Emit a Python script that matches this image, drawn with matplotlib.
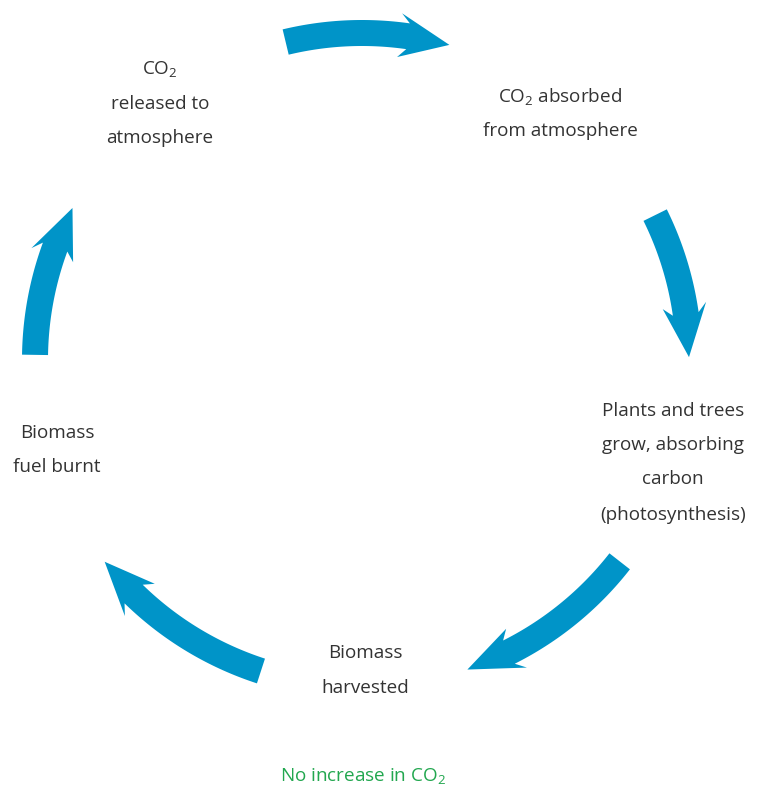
import matplotlib.pyplot as plt
import numpy as np
from matplotlib.patches import Polygon

plt.rcParams["font.family"] = ["Open Sans", "DejaVu Sans"]
plt.rcParams["mathtext.fontset"] = "custom"
plt.rcParams["mathtext.rm"] = "Open Sans"

# cycle geometry (pixels, image coords)
CX, CY, R = 362, 360, 327
SHAFT_W, HEAD_W = 26, 44
BLUE = "#0094c8"
TEXT = "#333333"
GREEN = "#22a74f"

# arrows: tail angle, head-base angle, tip angle (deg, clockwise travel)
arrow_tail = [103.5, 26.3, -38.0, -108.0, 179.1]
arrow_base = [83.4, 9.6, -61.8, -132.8, 161.3]
arrow_tip = [74.5, 0.5, -71.2, -141.9, 152.3]

# stage labels, one entry per line: (text, x, y)
labels = [
    [("CO$_\\mathregular{2}$", 160, 70), ("released to", 160, 104), ("atmosphere", 160, 138)],
    [("CO$_\\mathregular{2}$ absorbed", 560, 97), ("from atmosphere", 560, 131)],
    [("Plants and trees", 673, 411), ("grow, absorbing", 673, 445),
     ("carbon", 673, 479), ("(photosynthesis)", 673, 515)],
    [("Biomass", 365, 653), ("harvested", 365, 688)],
    [("Biomass", 57, 433), ("fuel burnt", 57, 467)],
]
footer = "No increase in CO$_\\mathregular{2}$"


def pt(theta, rr):
    t = np.deg2rad(theta)
    return CX + rr * np.cos(t), CY - rr * np.sin(t)


def arrow_poly(t_tail, t_base, t_tip):
    join = t_base - 1.5
    a = np.linspace(t_tail, join, 40)
    outer = [pt(x, R + SHAFT_W / 2) for x in a]
    inner = [pt(x, R - SHAFT_W / 2) for x in a[::-1]]
    head = [pt(t_base, R + HEAD_W / 2), pt(t_tip, R), pt(t_base, R - HEAD_W / 2)]
    return outer + head + inner


fig = plt.figure(figsize=(7.61, 7.92), dpi=100)
ax = fig.add_axes([0, 0, 1, 1])
ax.set_xlim(0, 761)
ax.set_ylim(792, 0)
ax.axis("off")

for tt, tb, tp in zip(arrow_tail, arrow_base, arrow_tip):
    ax.add_patch(Polygon(arrow_poly(tt, tb, tp), closed=True, fc=BLUE, ec="none"))

for block in labels:
    for s, x, y in block:
        ax.text(x, y, s, ha="center", va="center", fontsize=13.6, color=TEXT)

ax.text(363, 777, footer, ha="center", va="center", fontsize=13.6, color=GREEN)

fig.savefig("out.png", dpi=100, facecolor="white")
